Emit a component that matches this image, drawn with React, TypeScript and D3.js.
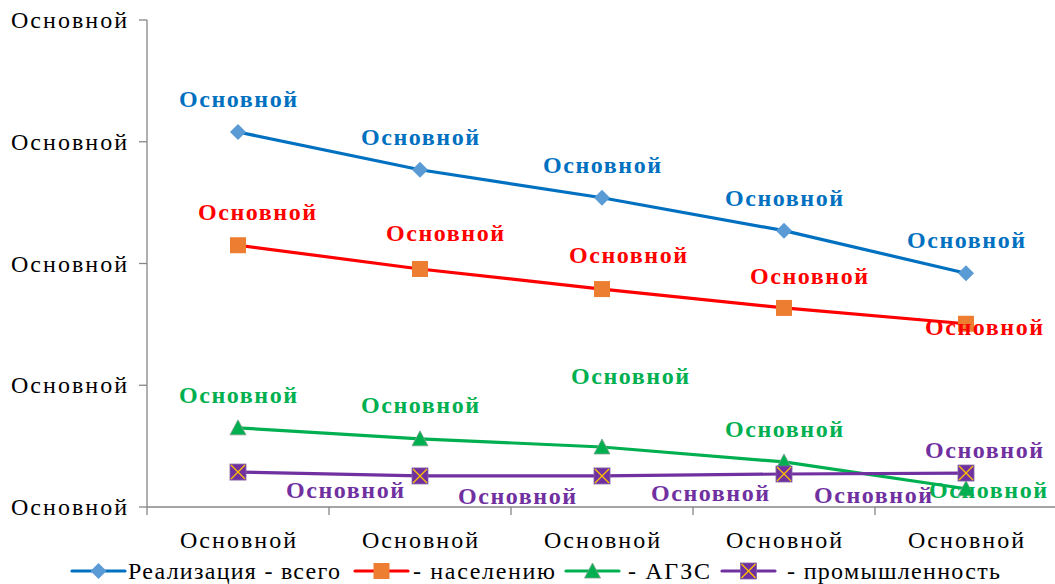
import React from "react";
import * as d3 from "d3";

const categories = ["Основной", "Основной", "Основной", "Основной", "Основной"];
const yTickValues = [0, 100, 200, 300, 400];
const yTickLabels = ["Основной", "Основной", "Основной", "Основной", "Основной"];

const totalValues = [308, 277, 254, 227, 192];
const populationValues = [215, 195.5, 179, 163.5, 150.5];
const agzsValues = [65, 56, 49.3, 37, 15];
const industryValues = [28.7, 25.5, 25.5, 27.1, 27.9];

const seriesNames = ["Реализация - всего", "- населению", "- АГЗС", "- промышленность"];
const dataLabels = ["Основной", "Основной", "Основной", "Основной", "Основной"];

// label offsets (dx, dy) relative to points — layout, not data
const labelOffsets: [number, number][][] = [
  [[0, -33], [0, -33], [0, -33], [0, -33], [0, -33]],
  [[19, -33], [25, -36], [26, -34], [25, -32], [18, 3]],
  [[0, -33], [0, -34], [28, -71], [0, -33], [22, 1]],
  [[107, 18], [97, 20], [108, 17], [89, 21], [18, -23]],
];

const W = 1055, H = 584;
const left = 147, right = 1057, top = 20, bottom = 507;
const FONT = "Liberation Serif, Times New Roman, DejaVu Serif, serif";

export default function App() {
  const x = d3.scalePoint<number>().domain(d3.range(categories.length)).range([left, right]).padding(0.5);
  const y = d3.scaleLinear().domain([0, 400]).range([bottom, top]);
  const step = x.step();
  const line = d3.line<number>().x((_, i) => x(i)!).y((d) => y(d));

  const series = [
    { values: totalValues, color: "#0070C0", marker: "diamond", mfill: "#5B9BD5" },
    { values: populationValues, color: "#FF0000", marker: "square", mfill: "#ED7D31" },
    { values: agzsValues, color: "#00B050", marker: "triangle", mfill: "#00B050" },
    { values: industryValues, color: "#7030A0", marker: "xsquare", mfill: "#7030A0" },
  ];

  const marker = (type: string, cx: number, cy: number, fill: string, key: string) => {
    const s = 8;
    if (type === "diamond") {
      return <path key={key} d={`M${cx},${cy - s}L${cx + s},${cy}L${cx},${cy + s}L${cx - s},${cy}Z`} fill={fill} />;
    }
    if (type === "square") {
      return <rect key={key} x={cx - s} y={cy - s} width={2 * s} height={2 * s} fill={fill} />;
    }
    if (type === "triangle") {
      return <path key={key} d={`M${cx},${cy - s}L${cx + s},${cy + s - 1}L${cx - s},${cy + s - 1}Z`} fill={fill} stroke="#7F9F8A" strokeWidth={0.8} />;
    }
    return (
      <g key={key}>
        <rect x={cx - s} y={cy - s} width={2 * s} height={2 * s} fill={fill} stroke="#8064A2" strokeWidth={0.8} />
        <path d={`M${cx - s + 1},${cy - s + 1}L${cx + s - 1},${cy + s - 1}M${cx + s - 1},${cy - s + 1}L${cx - s + 1},${cy + s - 1}`} stroke="#FFC000" strokeWidth={1.3} />
      </g>
    );
  };

  const legendItems = [
    { lx: 72, tx: 128, w: 212 },
    { lx: 355, tx: 413, w: 142 },
    { lx: 566, tx: 628, w: 82 },
    { lx: 722, tx: 787, w: 213 },
  ];

  const tf = { fontFamily: FONT };

  return (
    <svg width={W} height={H} style={{ position: "absolute", left: 0, top: 0, background: "#fff", fontFamily: FONT }}>
      <line x1={left} x2={left} y1={top} y2={bottom} stroke="#868686" strokeWidth={1.3} />
      <line x1={left} x2={right} y1={bottom} y2={bottom} stroke="#868686" strokeWidth={1.3} />
      {yTickValues.map((v, i) => (
        <g key={"yt" + i}>
          <line x1={left - 8} x2={left} y1={y(v)} y2={y(v)} stroke="#868686" strokeWidth={1.3} />
          <text x={127} y={y(v)} textAnchor="end" dominantBaseline="central" fontSize={24} fill="#000" style={tf} textLength={116} lengthAdjust="spacing">{yTickLabels[i]}</text>
        </g>
      ))}
      {d3.range(categories.length + 1).map((i) => (
        <line key={"xt" + i} x1={left + i * step} x2={left + i * step} y1={bottom} y2={bottom + 8} stroke="#868686" strokeWidth={1.3} />
      ))}
      {categories.map((c, i) => (
        <text key={"xl" + i} x={x(i)} y={540} textAnchor="middle" dominantBaseline="central" fontSize={24} fill="#000" style={tf} textLength={116} lengthAdjust="spacing">{c}</text>
      ))}

      {series.map((s, si) => (
        <path key={"l" + si} d={line(s.values)!} fill="none" stroke={s.color} strokeWidth={3.2} strokeLinejoin="round" strokeLinecap="round" />
      ))}
      {series.map((s, si) => s.values.map((v, i) => marker(s.marker, x(i)!, y(v), s.mfill, `m${si}-${i}`)))}

      {series.map((s, si) => s.values.map((v, i) => (
        <text key={`dl${si}-${i}`} x={x(i)! + labelOffsets[si][i][0]} y={y(v) + labelOffsets[si][i][1]} textAnchor="middle" dominantBaseline="central" fontSize={24} fontWeight="bold" fill={s.color} style={tf} textLength={118} lengthAdjust="spacing">{dataLabels[i]}</text>
      )))}

      {series.map((s, si) => {
        const it = legendItems[si];
        const cy = 571;
        return (
          <g key={"lg" + si}>
            <line x1={it.lx} x2={it.lx + 53} y1={cy} y2={cy} stroke={s.color} strokeWidth={3.2} strokeLinecap="round" />
            {marker(s.marker, it.lx + 26.5, cy, s.mfill, "lm" + si)}
            <text x={it.tx} y={cy} dominantBaseline="central" fontSize={24} fill="#000" style={tf} textLength={it.w} lengthAdjust="spacing">{seriesNames[si]}</text>
          </g>
        );
      })}
    </svg>
  );
}
